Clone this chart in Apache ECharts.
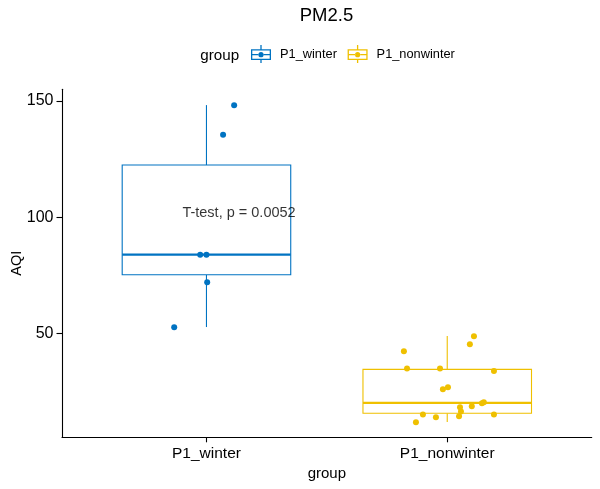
<!DOCTYPE html>
<html><head><meta charset="utf-8">
<script src="https://cdn.jsdelivr.net/npm/echarts@6/dist/echarts.min.js"></script>
<style>html,body{margin:0;padding:0;background:#fff}#c{width:600px;height:489px}</style>
</head><body><div id="c"></div>
<script>
const categories = ['P1_winter', 'P1_nonwinter'];
const yTicks = [50, 100, 150];
const winterValues = [148.1, 135.4, 83.8, 83.8, 72.0, 52.6];
const winterJitter = [0.115, 0.069, -0.026, 0.0, 0.003, -0.134];
const nonwinterValues = [48.7, 45.3, 42.3, 34.9, 34.9, 33.8, 26.8, 25.9, 20.3, 19.9, 18.6, 18.2, 16.4, 15.1, 15.1, 14.3, 13.9, 11.7];
const nonwinterJitter = [0.111, 0.094, -0.18, -0.167, -0.03, 0.194, 0.003, -0.018, 0.152, 0.144, 0.102, 0.053, 0.057, 0.194, -0.101, 0.049, -0.047, -0.13];
// min, Q1, median, Q3, max
const winterBox = [52.7, 75.2, 83.9, 122.4, 148.2];
const nonwinterBox = [11.8, 15.6, 20.1, 34.5, 48.8];
const annotationText = 'T-test, p = 0.0052';
const annotationPos = [0.9, 101.7];

const colors = ['#0073C2', '#EFC000'];
const FONT = '"Liberation Sans", Arial, sans-serif';
const ICON = 'path://M0 4.3 L20 4.3 L20 15 L0 15 Z M1.3 5.6 L1.3 13.7 L18.7 13.7 L18.7 5.6 Z ' +
  'M9.35 0 L10.65 0 L10.65 4.3 L9.35 4.3 Z M9.35 15 L10.65 15 L10.65 18 L9.35 18 Z ' +
  'M1.3 9.0 L7.6 9.0 L7.6 10.3 L1.3 10.3 Z M12.4 9.0 L18.7 9.0 L18.7 10.3 L12.4 10.3 Z ' +
  'M7.4 9.65 A2.6 2.6 0 1 0 12.6 9.65 A2.6 2.6 0 1 0 7.4 9.65 Z';

function boxSeries(i, stats) {
  const c = colors[i];
  return {
    type: 'custom', silent: true, z: 1,
    data: [[i + 1].concat(stats)],
    encode: { x: 0, y: [1, 2, 3, 4, 5] },
    renderItem: function (params, api) {
      const x = api.value(0), hw = 0.35;
      const tl = api.coord([x - hw, api.value(4)]);
      const br = api.coord([x + hw, api.value(2)]);
      const md = api.coord([x, api.value(3)]);
      const top = api.coord([x, api.value(5)]);
      const bot = api.coord([x, api.value(1)]);
      return { type: 'group', children: [
        { type: 'line', shape: { x1: md[0], y1: top[1], x2: md[0], y2: tl[1] }, style: { stroke: c, lineWidth: 1.1 } },
        { type: 'line', shape: { x1: md[0], y1: br[1], x2: md[0], y2: bot[1] }, style: { stroke: c, lineWidth: 1.1 } },
        { type: 'rect', shape: { x: tl[0], y: tl[1], width: br[0] - tl[0], height: br[1] - tl[1] }, style: { fill: '#fff', stroke: c, lineWidth: 1.1 } },
        { type: 'line', shape: { x1: tl[0], y1: md[1], x2: br[0], y2: md[1] }, style: { stroke: c, lineWidth: 2.2 } }
      ]};
    }
  };
}

const chart = echarts.init(document.getElementById('c'));
chart.setOption({
  animation: false,
  backgroundColor: '#fff',
  grid: { left: 62, right: 8.3, top: 89.3, bottom: 51.7, containLabel: false, outerBoundsMode: 'none' },
  graphic: [
    { type: 'text', x: 326.5, y: 16, style: { text: 'PM2.5', fontSize: 18.5, fontFamily: FONT, fill: '#000', align: 'center', verticalAlign: 'middle' } },
    { type: 'text', x: 219.7, y: 55.5, style: { text: 'group', fontSize: 15.2, fontFamily: FONT, fill: '#000', align: 'center', verticalAlign: 'middle' } }
  ],
  legend: {
    left: 251, top: 45, padding: 0, itemWidth: 20, itemHeight: 18, itemGap: 10.7,
    selectedMode: false,
    data: [{ name: categories[0], icon: ICON }, { name: categories[1], icon: ICON }],
    textStyle: { fontSize: 12.8, color: '#000', fontFamily: FONT, padding: [0, 0, 0, 4] }
  },
  xAxis: {
    type: 'value', min: 0.4, max: 2.6, splitLine: { show: false },
    axisLine: { show: true, onZero: false, lineStyle: { color: '#000', width: 1.1 } },
    axisTick: { show: true, customValues: [1, 2], length: 5, lineStyle: { color: '#000', width: 1.1 } },
    axisLabel: { customValues: [1, 2], formatter: function (v) { return categories[Math.round(v) - 1]; }, fontSize: 15.5, color: '#000', margin: 8.5, fontFamily: FONT },
    name: 'group', nameLocation: 'middle', nameGap: 29.5, nameMoveOverlap: false,
    nameTextStyle: { fontSize: 15, color: '#000', fontFamily: FONT }
  },
  yAxis: {
    type: 'value', min: 5.25, max: 155, splitLine: { show: false },
    axisLine: { show: true, onZero: false, lineStyle: { color: '#000', width: 1.1 } },
    axisTick: { show: true, customValues: yTicks, length: 5.5, lineStyle: { color: '#000', width: 1.1 } },
    axisLabel: { customValues: yTicks, fontSize: 16, color: '#000', margin: 8.5, fontFamily: FONT },
    name: 'AQI', nameLocation: 'middle', nameGap: 38, nameRotate: 90, nameMoveOverlap: false,
    nameTextStyle: { fontSize: 14.5, color: '#000', fontFamily: FONT }
  },
  series: [
    boxSeries(0, winterBox),
    boxSeries(1, nonwinterBox),
    { type: 'scatter', name: categories[0], z: 3, symbolSize: 6,
      itemStyle: { color: colors[0], opacity: 1 },
      data: winterValues.map(function (v, k) { return [1 + winterJitter[k], v]; }) },
    { type: 'scatter', name: categories[1], z: 3, symbolSize: 6,
      itemStyle: { color: colors[1], opacity: 1 },
      data: nonwinterValues.map(function (v, k) { return [2 + nonwinterJitter[k], v]; }) },
    { type: 'scatter', name: 'annotation', z: 5, symbolSize: 0, silent: true,
      data: [annotationPos],
      label: { show: true, formatter: annotationText, position: 'right', distance: 0, color: '#000', fontSize: 14.5, fontFamily: FONT } }
  ]
});
</script></body></html>
